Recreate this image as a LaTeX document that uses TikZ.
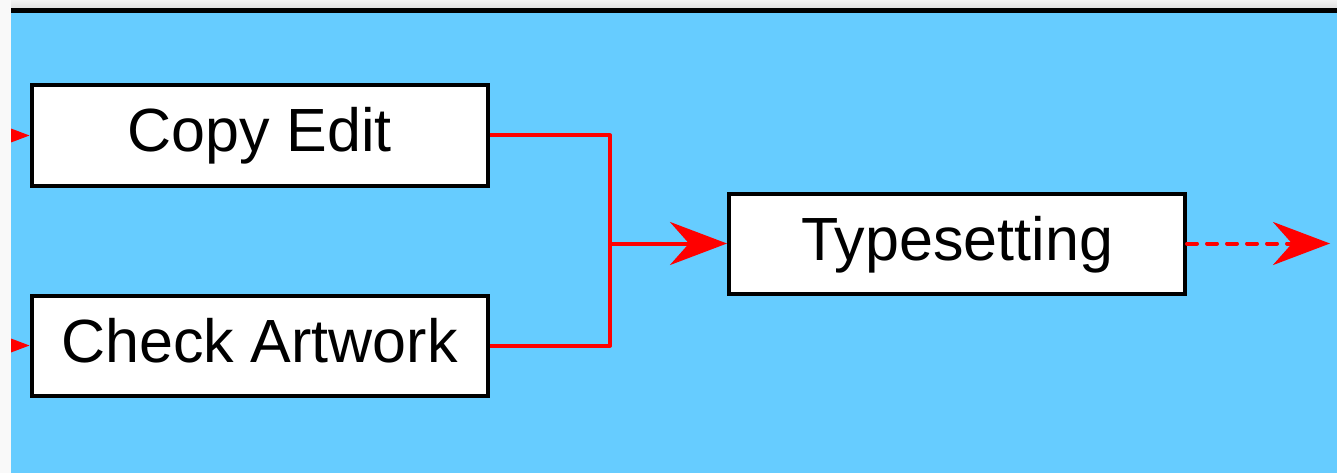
\documentclass[tikz,border=0pt]{standalone}
\usepackage{fontspec}
\setmainfont{Liberation Sans}
\usetikzlibrary{arrows.meta}
\definecolor{bgblue}{HTML}{66CCFF}
\definecolor{stripgray}{HTML}{F9F9F9}
\tikzset{
  box/.style={draw=black, fill=white, line width=4pt, minimum width=456pt, minimum height=100pt,
    inner sep=0pt, text height=44pt, text depth=11pt, font=\fontsize{61}{70}\selectfont},
  flow/.style={draw=red, line width=4pt},
  tip/.style={-{Stealth[length=57pt, width=43pt, inset=19pt]}},
}
\begin{document}
\begin{tikzpicture}[x=1pt,y=-1pt]
\useasboundingbox (0,0) rectangle (1337,473);
\fill[stripgray] (0,0) rectangle (1337,473);
\shade[top color=white!95!black, bottom color=white!88!black] (11,0) rectangle (1337,8);
\fill[black] (11,8) rectangle (1337,13.5);
\fill[bgblue] (11,13.5) rectangle (1337,473);

\node[box] (copy) at (259.5,135.5) {Copy Edit};
\node[box] (check) at (259.5,345.5) {Check Artwork};
\node[box] (type) at (957,243.5) {Typesetting};

\coordinate (inA) at (-60,135.5);
\coordinate (inB) at (-60,345.5);
\coordinate (join) at (610,243.5);
\coordinate (out) at (1330,243.5);

\begin{scope}
  \clip (11,13.5) rectangle (1337,473);
  \draw[flow,tip] (inA) -- (copy.west);
  \draw[flow,tip] (inB) -- (check.west);
\end{scope}

\draw[flow, line join=round] (copy.east) -| (join) |- (check.east);
\draw[flow,tip] (join) -- (type.west);
\draw[flow,tip, line cap=round, dash pattern=on 10pt off 10pt] (type.east) -- (out);
\end{tikzpicture}
\end{document}
